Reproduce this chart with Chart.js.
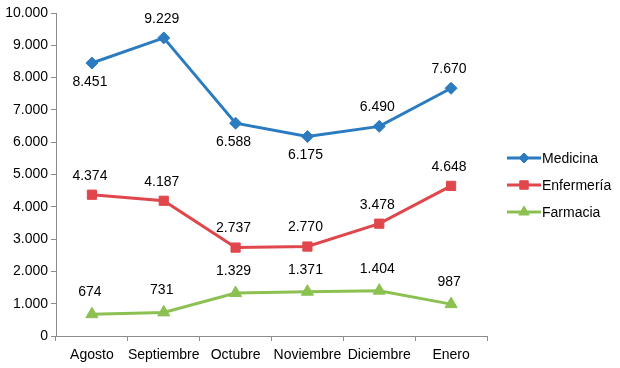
<!DOCTYPE html>
<html>
<head>
<meta charset="utf-8">
<script src="https://cdn.jsdelivr.net/npm/chart.js@4.4.0/dist/chart.umd.min.js"></script>
<style>
  html, body { margin: 0; padding: 0; background: #fff; }
  #wrap { width: 620px; height: 368px; }
</style>
</head>
<body>
<div id="wrap"><canvas id="c" width="620" height="368"></canvas></div>
<script>
const categories = ['Agosto', 'Septiembre', 'Octubre', 'Noviembre', 'Diciembre', 'Enero'];
const medicina = [8451, 9229, 6588, 6175, 6490, 7670];
const enfermeria = [4374, 4187, 2737, 2770, 3478, 4648];
const farmacia = [674, 731, 1329, 1371, 1404, 987];
const seriesNames = ['Medicina', 'Enfermería', 'Farmacia'];
const yTicks = [0, 1000, 2000, 3000, 4000, 5000, 6000, 7000, 8000, 9000, 10000];
// label side per point for Medicina (style, not data)
const medicinaLabelSide = ['below', 'above', 'below', 'below', 'above', 'above'];

const FONT = 'Liberation Sans';
const COLORS = ['#2B7BC1', '#E0474C', '#8CC152'];
const AXIS = '#8C8C8C';

function fmt(v) {
  return v.toString().replace(/\B(?=(\d{3})+(?!\d))/g, '.');
}

const dataLabelPlugin = {
  id: 'dataLabels',
  afterDatasetsDraw(chart) {
    const ctx = chart.ctx;
    ctx.save();
    ctx.font = '14px "' + FONT + '"';
    ctx.fillStyle = '#000';
    ctx.textAlign = 'center';
    ctx.textBaseline = 'middle';
    chart.data.datasets.forEach((ds, di) => {
      const meta = chart.getDatasetMeta(di);
      meta.data.forEach((pt, i) => {
        const side = ds.labelSide ? ds.labelSide[i] : 'above';
        const off = ds.labelOffset;
        const y = side === 'above' ? pt.y - off : pt.y + off;
        ctx.fillText(fmt(ds.data[i]), pt.x - 2, y);
      });
    });
    ctx.restore();
  }
};

const legendPlugin = {
  id: 'customLegend',
  afterDraw(chart) {
    const ctx = chart.ctx;
    const area = chart.chartArea;
    const x0 = area.right + 20;
    const yMid = chart.height / 2 + 1;
    const gap = 27;
    ctx.save();
    ctx.font = '14px "' + FONT + '"';
    ctx.textBaseline = 'middle';
    ctx.textAlign = 'left';
    chart.data.datasets.forEach((ds, di) => {
      const y = yMid + (di - 1) * gap;
      ctx.strokeStyle = ds.borderColor;
      ctx.lineWidth = 3;
      ctx.beginPath();
      ctx.moveTo(x0, y);
      ctx.lineTo(x0 + 34, y);
      ctx.stroke();
      ctx.fillStyle = ds.borderColor;
      ctx.strokeStyle = ds.borderColor;
      ctx.lineWidth = 1;
      Chart.helpers.drawPoint(ctx, {
        pointStyle: ds.pointStyle,
        rotation: 0,
        radius: ds.legendRadius,
        borderWidth: 1
      }, x0 + 17, y);
      ctx.fillStyle = '#000';
      ctx.fillText(ds.label, x0 + 35, y + 1);
    });
    ctx.restore();
  }
};

function makeDataset(idx, data, style, radius, legendRadius, extra) {
  return Object.assign({
    label: seriesNames[idx],
    data: data,
    borderColor: COLORS[idx],
    backgroundColor: COLORS[idx],
    pointBackgroundColor: COLORS[idx],
    pointBorderColor: COLORS[idx],
    borderWidth: 3,
    pointStyle: style,
    pointRadius: radius,
    pointHoverRadius: radius,
    pointBorderWidth: 1,
    tension: 0,
    fill: false,
    labelOffset: 19,
    legendRadius: legendRadius
  }, extra || {});
}

new Chart(document.getElementById('c'), {
  type: 'line',
  data: {
    labels: categories,
    datasets: [
      makeDataset(0, medicina, 'rectRot', 6, 5, { labelSide: medicinaLabelSide }),
      makeDataset(1, enfermeria, 'rect', 6.5, 6),
      makeDataset(2, farmacia, 'triangle', 7, 6, { labelOffset: 22 })
    ]
  },
  options: {
    responsive: false,
    animation: false,
    devicePixelRatio: 1,
    layout: { padding: { left: 0, right: 133, top: 13, bottom: 0 } },
    plugins: {
      legend: { display: false },
      tooltip: { enabled: false }
    },
    scales: {
      x: {
        type: 'category',
        offset: true,
        afterFit(scale) { scale.height = 32; },
        grid: {
          display: true,
          offset: true,
          drawOnChartArea: false,
          drawTicks: true,
          tickLength: 5,
          color: AXIS
        },
        border: { display: true, color: AXIS, width: 1 },
        ticks: {
          color: '#000',
          font: { family: FONT, size: 14 },
          padding: 6,
          maxRotation: 0,
          autoSkip: false
        }
      },
      y: {
        min: 0,
        max: 10000,
        afterBuildTicks(scale) {
          scale.ticks = yTicks.map(v => ({ value: v }));
        },
        afterFit(scale) { scale.width = 56; },
        grid: {
          display: true,
          drawOnChartArea: false,
          drawTicks: true,
          tickLength: 5,
          color: AXIS
        },
        border: { display: true, color: AXIS, width: 1 },
        ticks: {
          color: '#000',
          font: { family: FONT, size: 14 },
          padding: 3,
          callback: (v) => fmt(v)
        }
      }
    }
  },
  plugins: [dataLabelPlugin, legendPlugin]
});
</script>
</body>
</html>
